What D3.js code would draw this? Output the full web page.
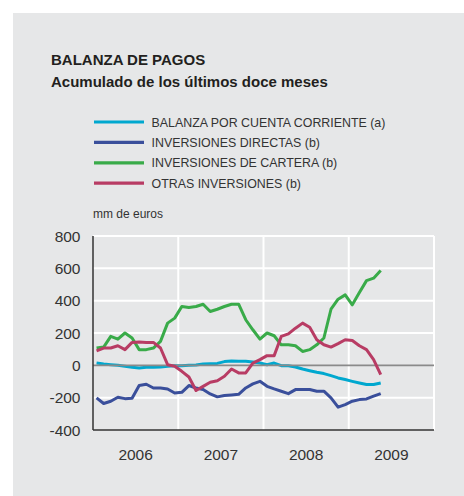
<!DOCTYPE html>
<html lang="es">
<head>
    <meta charset="UTF-8">
    <title>Balanza de pagos</title>
    <style>
        body {
            margin: 0;
            padding: 0;
            background: #ffffff;
            font-family: "Liberation Sans", Arial, sans-serif;
        }
        svg { display: block; }
    </style>
</head>
<body>
    <div id="chart"></div>
    <script src="https://d3js.org/d3.v7.min.js"></script>
    <script>
        // Monthly data, Jan 2006 - May 2009 (mm de euros)
        const startYear = 2006;
        const years = ['2006', '2007', '2008', '2009'];
        const yTicks = [-400, -200, 0, 200, 400, 600, 800];

        const cuentaCorriente = [14, 8, 4, 0, -6, -12, -16, -12, -12, -10, -6, -2, -2, 0, 2, 8, 10, 12, 23, 27,
            25, 25, 21, 14, 4, 14, -2, -2, -10, -23, -33, -43, -51, -64, -78, -88, -99, -109, -119, -119, -109];
        const invDirectas = [-201, -236, -222, -197, -206, -204, -125, -117, -140, -140, -146, -171, -167, -125, -140, -150, -177, -195, -187, -183,
            -179, -140, -115, -99, -130, -146, -160, -175, -150, -150, -150, -160, -160, -201, -259, -243, -222, -212, -208, -191, -175];
        const invCartera = [107, 113, 179, 162, 200, 169, 97, 97, 107, 148, 261, 292, 364, 358, 364, 378, 333, 347, 364, 378,
            378, 282, 220, 162, 200, 183, 127, 127, 121, 86, 97, 127, 169, 347, 409, 436, 374, 450, 524, 539, 586];
        const otrasInv = [90, 107, 107, 121, 97, 142, 144, 142, 142, 107, 4, -6, -37, -72, -156, -130, -105, -95, -68, -23,
            -47, -47, 14, 35, 60, 60, 179, 195, 230, 261, 236, 158, 127, 113, 134, 158, 154, 121, 97, 35, -58];

        const seriesNames = [
            'BALANZA POR CUENTA CORRIENTE (a)',
            'INVERSIONES DIRECTAS (b)',
            'INVERSIONES DE CARTERA (b)',
            'OTRAS INVERSIONES (b)'
        ];
        const seriesColors = ['#00a8cf', '#3a4f9b', '#39ab49', '#b83c64'];
        const seriesData = [cuentaCorriente, invDirectas, invCartera, otrasInv];

        const width = 464;
        const height = 496;
        const margin = { top: 236, right: 30, bottom: 66, left: 93 };
        const innerWidth = width - margin.left - margin.right;
        const innerHeight = height - margin.top - margin.bottom;

        const svg = d3.select('#chart')
            .append('svg')
            .attr('width', width)
            .attr('height', height);

        // Grey panel
        svg.append('rect')
            .attr('x', 13)
            .attr('y', 13)
            .attr('width', width - 13)
            .attr('height', height - 13)
            .attr('fill', '#e6e7e8');

        // Titles
        svg.append('text')
            .attr('x', 51)
            .attr('y', 65)
            .attr('font-size', '15px')
            .attr('font-weight', 'bold')
            .attr('fill', '#231f20')
            .text('BALANZA DE PAGOS');

        svg.append('text')
            .attr('x', 51)
            .attr('y', 87)
            .attr('font-size', '15px')
            .attr('font-weight', 'bold')
            .attr('fill', '#231f20')
            .text('Acumulado de los últimos doce meses');

        // Legend
        const legend = svg.append('g')
            .attr('transform', 'translate(94,122)');

        const legendRows = legend.selectAll('g')
            .data(seriesNames)
            .join('g')
            .attr('transform', (d, i) => `translate(0,${i * 20.4})`);

        legendRows.append('line')
            .attr('x1', 0)
            .attr('x2', 50)
            .attr('stroke', (d, i) => seriesColors[i])
            .attr('stroke-width', 3.2);

        legendRows.append('text')
            .attr('x', 57.5)
            .attr('y', 4.5)
            .attr('font-size', '12.4px')
            .attr('fill', '#333')
            .text(d => d);

        svg.append('text')
            .attr('x', 93)
            .attr('y', 218)
            .attr('font-size', '12px')
            .attr('fill', '#333')
            .text('mm de euros');

        const g = svg.append('g')
            .attr('transform', `translate(${margin.left},${margin.top})`);

        // Scales
        const xScale = d3.scaleLinear()
            .domain([0, years.length * 12])
            .range([0, innerWidth]);

        const yScale = d3.scaleLinear()
            .domain([-400, 800])
            .range([innerHeight, 0]);

        // Horizontal grid lines
        g.selectAll('.hgrid')
            .data(yTicks.filter(v => v !== -400 && v !== 0))
            .join('line')
            .attr('class', 'hgrid')
            .attr('x1', 0)
            .attr('x2', innerWidth)
            .attr('y1', d => yScale(d))
            .attr('y2', d => yScale(d))
            .attr('stroke', '#ffffff')
            .attr('stroke-width', 2);

        // Vertical grid lines (year boundaries)
        g.selectAll('.vgrid')
            .data(d3.range(1, years.length + 1))
            .join('line')
            .attr('class', 'vgrid')
            .attr('x1', d => xScale(d * 12))
            .attr('x2', d => xScale(d * 12))
            .attr('y1', 0)
            .attr('y2', innerHeight)
            .attr('stroke', '#ffffff')
            .attr('stroke-width', 2);

        // Y axis labels
        g.selectAll('.ylabel')
            .data(yTicks)
            .join('text')
            .attr('class', 'ylabel')
            .attr('x', -12.5)
            .attr('y', d => yScale(d) + 5.5)
            .attr('text-anchor', 'end')
            .attr('font-size', '15.5px')
            .attr('fill', '#333')
            .text(d => d);

        // X axis labels, centred in each year
        g.selectAll('.xlabel')
            .data(years)
            .join('text')
            .attr('class', 'xlabel')
            .attr('x', (d, i) => xScale(i * 12 + 6))
            .attr('y', innerHeight + 30)
            .attr('text-anchor', 'middle')
            .attr('font-size', '15.5px')
            .attr('fill', '#333')
            .text(d => d);

        const line = d3.line()
            .x((d, i) => xScale(i + 0.5))
            .y(d => yScale(d));

        function drawSeries(idx) {
            g.append('path')
                .datum(seriesData[idx])
                .attr('fill', 'none')
                .attr('stroke', seriesColors[idx])
                .attr('stroke-width', 3)
                .attr('stroke-linejoin', 'round')
                .attr('d', line);
        }

        drawSeries(0);

        // Zero line
        g.append('line')
            .attr('x1', 0)
            .attr('x2', innerWidth)
            .attr('y1', yScale(0))
            .attr('y2', yScale(0))
            .attr('stroke', '#8a8a8a')
            .attr('stroke-width', 1.8);

        drawSeries(1);
        drawSeries(2);
        drawSeries(3);

        // Axis lines
        g.append('line')
            .attr('x1', 0).attr('x2', 0)
            .attr('y1', 0).attr('y2', innerHeight)
            .attr('stroke', '#333')
            .attr('stroke-width', 1.5);

        g.append('line')
            .attr('x1', 0).attr('x2', innerWidth)
            .attr('y1', innerHeight).attr('y2', innerHeight)
            .attr('stroke', '#333')
            .attr('stroke-width', 1.5);
    </script>
</body>
</html>
